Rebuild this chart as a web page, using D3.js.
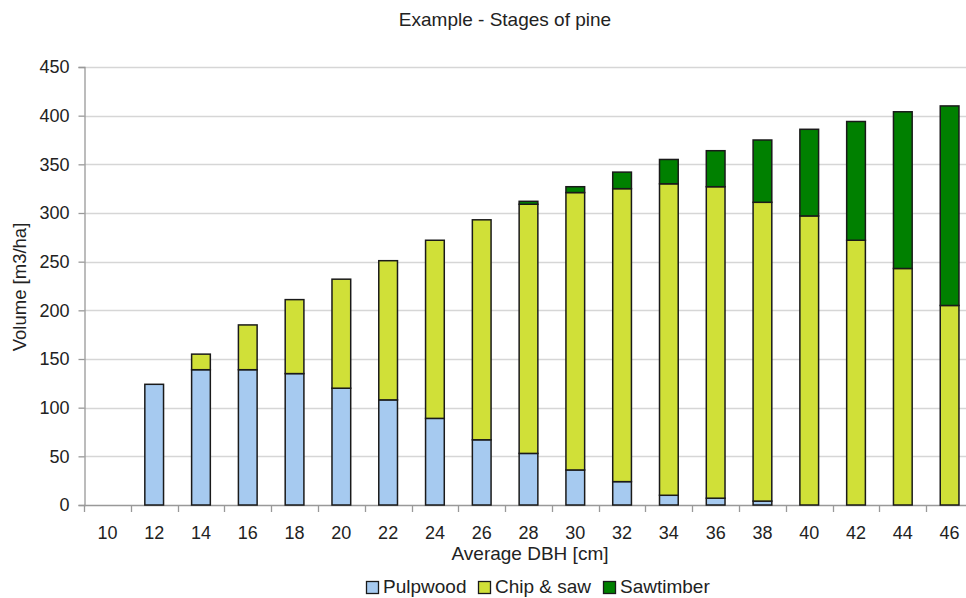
<!DOCTYPE html>
<html>
<head>
<meta charset="utf-8">
<script src="https://cdn.jsdelivr.net/npm/d3@7"></script>
<style>
  html, body { margin: 0; padding: 0; background: #fff; }
  svg { display: block; font-family: "Liberation Sans", Arial, sans-serif; }
</style>
</head>
<body>
<svg id="chart" width="966" height="598"></svg>
<script>
// Average DBH classes (cm)
const categories = ["10","12","14","16","18","20","22","24","26","28","30","32","34","36","38","40","42","44","46"];
// Volume per product class (m3/ha)
const pulpwood   = [0,124,139,139,135,120,108, 89, 67, 53, 36, 24, 10,  7,  4,  0,  0,  0,  0];
const chipAndSaw = [0,  0, 16, 46, 76,112,143,183,226,256,285,301,320,320,307,297,272,243,205];
const sawtimber  = [0,  0,  0,  0,  0,  0,  0,  0,  0,  3,  6, 17, 25, 37, 64, 89,122,161,205];
const seriesNames = ["Pulpwood", "Chip & saw", "Sawtimber"];
const seriesColors = ["#a6caf0", "#d0e038", "#008000"];
const yTicks = [0,50,100,150,200,250,300,350,400,450];

const svg = d3.select("#chart");
const plotLeft = 84, plotRight = 973, plotTop = 67, plotBottom = 505;
const textColor = "#222";
const font = "Liberation Sans, Arial, sans-serif";

const x = d3.scaleBand().domain(categories).range([plotLeft, plotRight])
  .paddingInner(0.6).paddingOuter(0.3);
const y = d3.scaleLinear().domain([0, 450]).range([plotBottom, plotTop]);
const step = x.step();

const rows = categories.map((c, i) => ({
  cat: c, Pulpwood: pulpwood[i], "Chip & saw": chipAndSaw[i], Sawtimber: sawtimber[i]
}));
const stacked = d3.stack().keys(seriesNames)(rows);

// title
svg.append("text").attr("x", 505).attr("y", 26).attr("text-anchor", "middle")
  .attr("font-size", 19).attr("fill", textColor).text("Example - Stages of pine");

// gridlines
svg.append("g").selectAll("line").data(yTicks.filter(d => d > 0)).join("line")
  .attr("x1", plotLeft).attr("x2", plotRight)
  .attr("y1", d => Math.round(y(d)) + 0.5).attr("y2", d => Math.round(y(d)) + 0.5)
  .attr("stroke", "#d6d6d6").attr("stroke-width", 1.3);

// y axis
const yAxis = svg.append("g").attr("transform", `translate(${plotLeft + 0.5},0)`)
  .call(d3.axisLeft(y).tickValues(yTicks).tickSize(6).tickPadding(9));
yAxis.select(".domain").attr("stroke", "#999").attr("stroke-width", 1.3);
yAxis.selectAll(".tick line").attr("stroke", "#999").attr("stroke-width", 1.3);
yAxis.selectAll(".tick text").attr("font-size", 18).attr("fill", textColor)
  .attr("font-family", font);

// x axis: category labels centred, ticks at category boundaries
const xAxis = svg.append("g").attr("transform", `translate(0,${plotBottom + 0.5})`)
  .call(d3.axisBottom(x).tickSize(0).tickPadding(21));
xAxis.select(".domain").attr("stroke", "#999").attr("stroke-width", 1.3)
  .attr("d", `M${plotLeft},0H${plotRight}`);
xAxis.selectAll(".tick text").attr("font-size", 18).attr("fill", textColor)
  .attr("font-family", font);
svg.append("g").selectAll("line").data(categories).join("line")
  .attr("x1", d => Math.round(x(d) - step * 0.3) + 0.5)
  .attr("x2", d => Math.round(x(d) - step * 0.3) + 0.5)
  .attr("y1", plotBottom).attr("y2", plotBottom + 7)
  .attr("stroke", "#999").attr("stroke-width", 1.3);

// stacked bars
svg.append("g").selectAll("g").data(stacked).join("g")
  .attr("fill", (d, i) => seriesColors[i])
  .selectAll("rect").data(d => d.filter(p => p[1] - p[0] > 0)).join("rect")
  .attr("x", d => x(d.data.cat))
  .attr("width", x.bandwidth())
  .attr("y", d => y(d[1]))
  .attr("height", d => y(d[0]) - y(d[1]))
  .attr("stroke", "#1a1a1a").attr("stroke-width", 1.5);

// axis titles
svg.append("text").attr("transform", "translate(26,287) rotate(-90)")
  .attr("text-anchor", "middle").attr("font-size", 18.5).attr("fill", textColor)
  .text("Volume [m3/ha]");
svg.append("text").attr("x", 530).attr("y", 559.5).attr("text-anchor", "middle")
  .attr("font-size", 19).attr("fill", textColor).text("Average DBH [cm]");

// legend
const legend = svg.append("g").attr("transform", "translate(0,593)");
const legendX = [366, 478, 603];
seriesNames.forEach((name, i) => {
  const g = legend.append("g").attr("transform", `translate(${legendX[i]},0)`);
  g.append("rect").attr("x", 0.5).attr("y", -11.5).attr("width", 12).attr("height", 12)
    .attr("fill", seriesColors[i]).attr("stroke", "#1a1a1a").attr("stroke-width", 1.3);
  g.append("text").attr("x", 17).attr("y", 0).attr("font-size", 19).attr("fill", textColor)
    .text(name);
});
</script>
</body>
</html>
